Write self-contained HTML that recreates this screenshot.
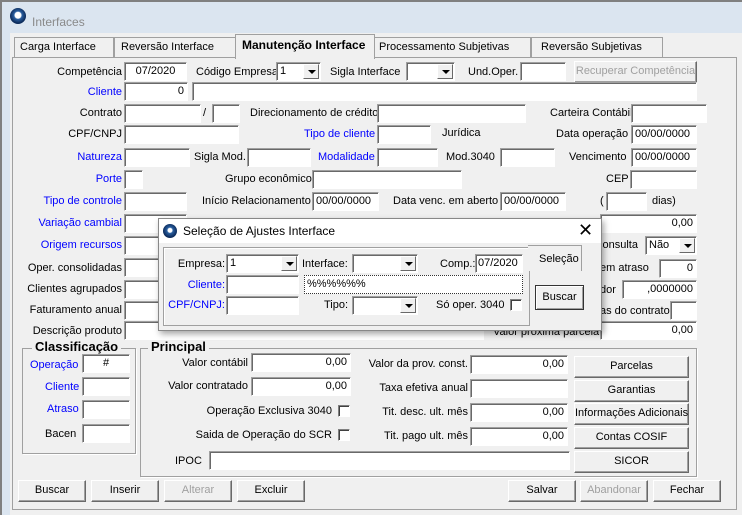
<!DOCTYPE html>
<html><head><meta charset="utf-8"><style>
*{box-sizing:border-box;margin:0;padding:0}
body{width:742px;height:515px;overflow:hidden;background:#dbe5f0;font-family:"Liberation Sans",sans-serif;font-size:11px;color:#000;position:relative}
div{position:absolute}
.l{white-space:nowrap;line-height:14px}
.r{text-align:right}
.b{color:#0000ff}
.i{background:#fff;border:1px solid;border-color:#a0a0a0 #fff #fff #a0a0a0;box-shadow:inset 1px 1px 0 #696969;height:19px;line-height:16px;padding:0 3px;white-space:nowrap;overflow:hidden}
.btn{background:#f0f0f0;border:1px solid;border-color:#fff #696969 #696969 #fff;box-shadow:inset -1px -1px 0 #a0a0a0;text-align:center;line-height:19px;height:22px;white-space:nowrap}
.dis{color:#a0a0a0}
.dd{position:absolute;right:1px;top:1px;width:16px;height:15px;background:#f0f0f0;border:1px solid;border-color:#fff #696969 #696969 #fff}
.dd:after{content:"";position:absolute;left:4px;top:5px;border:4px solid transparent;border-top:4px solid #000;border-bottom:0}
.cb{width:12px;height:12px;background:#fff;border:1px solid;border-color:#808080 #fff #fff #808080;box-shadow:inset 1px 1px 0 #404040}
.grp{border:1px solid #a0a0a0;box-shadow:1px 1px 0 #fff}
.gt{background:#f0f0f0;font-weight:bold;font-size:13px;padding:0 3px;line-height:14px}
</style></head><body>
<div style="left:0;top:0;width:742px;height:515px;border:2px solid #808080;border-right:0;border-bottom:0"></div>
<div style="left:10px;top:8px;width:16px;height:16px;border-radius:50%;background:radial-gradient(circle at 50% 45%,#fff 0 3px,#2a5fa0 4px,#0b2a5a 8px)"></div>
<div class="l" style="left:32px;top:15px;color:#8a8a8a;font-size:12px">Interfaces</div>
<div style="left:10px;top:33px;width:732px;height:482px;background:#f0f0f0"></div>
<div style="left:14px;top:37px;width:100px;height:21px;border:1px solid #a0a0a0;border-bottom:0;background:#f0f0f0"></div><div class="l" style="left:20px;top:40px">Carga Interface</div>
<div style="left:114px;top:37px;width:122px;height:21px;border:1px solid #a0a0a0;border-bottom:0;background:#f0f0f0"></div><div class="l" style="left:121px;top:40px">Reversão Interface</div>
<div style="left:374px;top:37px;width:157px;height:21px;border:1px solid #a0a0a0;border-bottom:0;background:#f0f0f0"></div><div class="l" style="left:379px;top:40px">Processamento Subjetivas</div>
<div style="left:531px;top:37px;width:132px;height:21px;border:1px solid #a0a0a0;border-bottom:0;background:#f0f0f0"></div><div class="l" style="left:541px;top:40px">Reversão Subjetivas</div>
<div style="left:12px;top:57px;width:725px;height:453px;border:1px solid #a0a0a0;background:#f0f0f0"></div>
<div style="left:235px;top:34px;width:140px;height:25px;background:#f0f0f0;border:1px solid #a0a0a0;border-bottom:0"></div>
<div class="l" style="left:242px;top:38px;font-weight:bold;font-size:12px">Manutenção Interface</div>

<div class="l r" style="right:620px;top:65px">Competência</div>
<div class="i" style="left:124px;top:62px;width:63px;text-align:center">07/2020</div>
<div class="l" style="left:196px;top:65px">Código Empresa</div>
<div class="i" style="left:276px;top:62px;width:45px">1<span class="dd"></span></div>
<div class="l" style="left:330px;top:65px">Sigla Interface</div>
<div class="i" style="left:406px;top:62px;width:49px"><span class="dd"></span></div>
<div class="l" style="left:468px;top:65px">Und.Oper.</div>
<div class="i" style="left:520px;top:62px;width:46px"></div>
<div class="btn dis" style="left:574px;top:61px;width:123px">Recuperar Competência</div>
<div class="l r b" style="right:620px;top:85px">Cliente</div>
<div class="i" style="left:124px;top:82px;width:64px;text-align:right">0</div>
<div class="i" style="left:192px;top:82px;width:505px"></div>
<div class="l r" style="right:620px;top:106px">Contrato</div>
<div class="i" style="left:124px;top:104px;width:77px"></div>
<div class="l" style="left:203px;top:106px">/</div>
<div class="i" style="left:212px;top:104px;width:28px"></div>
<div class="l" style="left:250px;top:106px">Direcionamento de crédito</div>
<div class="i" style="left:377px;top:104px;width:149px"></div>
<div class="l" style="left:550px;top:106px">Carteira Contábil</div>
<div class="i" style="left:631px;top:104px;width:76px"></div>
<div class="l r" style="right:620px;top:127px">CPF/CNPJ</div>
<div class="i" style="left:124px;top:125px;width:115px"></div>
<div class="l b" style="left:304px;top:127px">Tipo de cliente</div>
<div class="i" style="left:377px;top:125px;width:54px"></div>
<div class="l" style="left:442px;top:126px">Jurídica</div>
<div class="l" style="left:556px;top:127px">Data operação</div>
<div class="i" style="left:631px;top:125px;width:66px">00/00/0000</div>
<div class="l r b" style="right:620px;top:150px">Natureza</div>
<div class="i" style="left:124px;top:148px;width:66px"></div>
<div class="l" style="left:194px;top:150px">Sigla Mod.</div>
<div class="i" style="left:247px;top:148px;width:64px"></div>
<div class="l b" style="left:318px;top:150px">Modalidade</div>
<div class="i" style="left:377px;top:148px;width:61px"></div>
<div class="l" style="left:446px;top:150px">Mod.3040</div>
<div class="i" style="left:500px;top:148px;width:55px"></div>
<div class="l" style="left:569px;top:150px">Vencimento</div>
<div class="i" style="left:631px;top:148px;width:66px">00/00/0000</div>
<div class="l r b" style="right:620px;top:172px">Porte</div>
<div class="i" style="left:124px;top:170px;width:19px"></div>
<div class="l" style="left:225px;top:172px">Grupo econômico</div>
<div class="i" style="left:312px;top:170px;width:150px"></div>
<div class="l" style="left:606px;top:172px">CEP</div>
<div class="i" style="left:630px;top:170px;width:67px"></div>
<div class="l r b" style="right:620px;top:194px">Tipo de controle</div>
<div class="i" style="left:124px;top:192px;width:63px"></div>
<div class="l" style="left:202px;top:194px">Início Relacionamento</div>
<div class="i" style="left:312px;top:192px;width:67px">00/00/0000</div>
<div class="l" style="left:393px;top:194px">Data venc. em aberto</div>
<div class="i" style="left:500px;top:192px;width:66px">00/00/0000</div>
<div class="l" style="left:600px;top:194px">(</div>
<div class="i" style="left:606px;top:192px;width:41px"></div>
<div class="l" style="left:652px;top:194px">dias)</div>
<div class="l r b" style="right:620px;top:216px">Variação cambial</div>
<div class="i" style="left:124px;top:214px;width:63px"></div>
<div class="i" style="left:600px;top:214px;width:97px;text-align:right">0,00</div>
<div class="l r b" style="right:620px;top:238px">Origem recursos</div>
<div class="i" style="left:124px;top:236px;width:63px"></div>
<div class="l" style="left:597px;top:238px">consulta</div>
<div class="i" style="left:645px;top:236px;width:52px">Não<span class="dd"></span></div>
<div class="l r" style="right:620px;top:261px">Oper. consolidadas</div>
<div class="i" style="left:124px;top:258px;width:63px"></div>
<div class="l" style="left:600px;top:261px">em atraso</div>
<div class="i" style="left:659px;top:259px;width:38px;text-align:right">0</div>
<div class="l r" style="right:620px;top:282px">Clientes agrupados</div>
<div class="i" style="left:124px;top:280px;width:63px"></div>
<div class="l" style="left:600px;top:283px">dor</div>
<div class="i" style="left:622px;top:280px;width:75px;text-align:right">,0000000</div>
<div class="l r" style="right:620px;top:303px">Faturamento anual</div>
<div class="i" style="left:124px;top:301px;width:63px"></div>
<div class="l" style="left:600px;top:304px">as do contrato</div>
<div class="i" style="left:670px;top:301px;width:27px"></div>
<div class="l r" style="right:620px;top:324px">Descrição produto</div>
<div class="i" style="left:124px;top:321px;width:360px"></div>
<div class="l" style="left:493px;top:325px">Valor próxima parcela</div>
<div class="i" style="left:600px;top:321px;width:97px;text-align:right">0,00</div>

<div class="grp" style="left:22px;top:348px;width:114px;height:106px"></div>
<div class="gt" style="left:32px;top:340px">Classificação</div>
<div class="l b" style="left:30px;top:358px">Operação</div>
<div class="i" style="left:82px;top:354px;width:48px;text-align:center">#</div>
<div class="l b" style="left:45px;top:380px">Cliente</div>
<div class="i" style="left:82px;top:377px;width:48px"></div>
<div class="l b" style="left:47px;top:402px">Atraso</div>
<div class="i" style="left:82px;top:400px;width:48px"></div>
<div class="l" style="left:45px;top:427px">Bacen</div>
<div class="i" style="left:82px;top:424px;width:48px"></div>

<div class="grp" style="left:140px;top:348px;width:557px;height:129px"></div>
<div class="gt" style="left:148px;top:340px">Principal</div>
<div class="l r" style="right:494px;top:356px">Valor contábil</div>
<div class="i" style="left:251px;top:353px;width:100px;text-align:right">0,00</div>
<div class="l r" style="right:494px;top:379px">Valor contratado</div>
<div class="i" style="left:251px;top:377px;width:100px;text-align:right">0,00</div>
<div class="l r" style="right:410px;top:404px">Operação Exclusiva 3040</div>
<div class="cb" style="left:338px;top:405px"></div>
<div class="l r" style="right:410px;top:428px">Saida de Operação do SCR</div>
<div class="cb" style="left:338px;top:429px"></div>
<div class="l" style="left:175px;top:454px">IPOC</div>
<div class="i" style="left:209px;top:451px;width:361px"></div>
<div class="l r" style="right:274px;top:357px">Valor da prov. const.</div>
<div class="i" style="left:470px;top:355px;width:98px;text-align:right">0,00</div>
<div class="l r" style="right:274px;top:381px">Taxa efetiva anual</div>
<div class="i" style="left:470px;top:379px;width:98px"></div>
<div class="l r" style="right:274px;top:405px">Tit. desc. ult. mês</div>
<div class="i" style="left:470px;top:403px;width:98px;text-align:right">0,00</div>
<div class="l r" style="right:274px;top:429px">Tit. pago ult. mês</div>
<div class="i" style="left:470px;top:427px;width:98px;text-align:right">0,00</div>
<div class="btn" style="left:574px;top:356px;width:115px">Parcelas</div>
<div class="btn" style="left:574px;top:380px;width:115px">Garantias</div>
<div class="btn" style="left:574px;top:403px;width:115px">Informações Adicionais</div>
<div class="btn" style="left:574px;top:427px;width:115px">Contas COSIF</div>
<div class="btn" style="left:574px;top:451px;width:115px">SICOR</div>

<div class="btn" style="left:18px;top:480px;width:68px">Buscar</div>
<div class="btn" style="left:91px;top:480px;width:68px">Inserir</div>
<div class="btn dis" style="left:164px;top:480px;width:68px">Alterar</div>
<div class="btn" style="left:237px;top:480px;width:68px">Excluir</div>
<div class="btn" style="left:508px;top:480px;width:68px">Salvar</div>
<div class="btn dis" style="left:580px;top:480px;width:68px">Abandonar</div>
<div class="btn" style="left:653px;top:480px;width:68px">Fechar</div>

<div style="left:158px;top:218px;width:444px;height:113px;background:#f0f0f0;border:1px solid #888;box-shadow:2px 3px 6px rgba(0,0,0,.35)"></div>
<div style="left:159px;top:219px;width:442px;height:24px;background:#fff"></div>
<div style="left:163px;top:224px;width:14px;height:14px;border-radius:50%;background:radial-gradient(circle at 50% 45%,#fff 0 2px,#2a5fa0 3px,#0b2a5a 7px)"></div>
<div class="l" style="left:183px;top:224px;font-size:12px">Seleção de Ajustes Interface</div>
<div class="l" style="left:578px;top:221px;font-size:18px;line-height:18px">✕</div>
<div style="left:163px;top:247px;width:367px;height:79px;border:1px solid #a0a0a0;box-shadow:inset 1px 1px 0 #fff"></div>
<div style="left:528px;top:245px;width:54px;height:26px;background:#f0f0f0;border:1px solid #a0a0a0;border-bottom:0;border-left:0"></div>
<div class="l" style="left:539px;top:252px">Seleção</div>
<div class="l r" style="right:517px;top:257px">Empresa:</div>
<div class="i" style="left:226px;top:254px;width:73px">1<span class="dd"></span></div>
<div class="l" style="left:302px;top:257px">Interface:</div>
<div class="i" style="left:352px;top:254px;width:66px"><span class="dd"></span></div>
<div class="l" style="left:440px;top:257px">Comp.:</div>
<div class="i" style="left:475px;top:254px;width:48px;padding:0 2px">07/2020</div>
<div class="l r b" style="right:517px;top:278px">Cliente:</div>
<div class="i" style="left:226px;top:275px;width:73px"></div>
<div style="left:304px;top:275px;width:219px;height:19px;border:1px dotted #333;background:#fff;line-height:17px;padding:0 2px;font-size:11px">%%%%%%</div>
<div class="l r b" style="right:517px;top:298px">CPF/CNPJ:</div>
<div class="i" style="left:226px;top:296px;width:73px"></div>
<div class="l" style="left:324px;top:298px">Tipo:</div>
<div class="i" style="left:352px;top:296px;width:66px"><span class="dd"></span></div>
<div class="l" style="left:436px;top:298px">Só oper. 3040</div>
<div class="cb" style="left:510px;top:299px"></div>
<div class="btn" style="left:535px;top:285px;width:49px;height:25px;border:1px solid #333;box-shadow:inset 1px 1px 0 #fff,inset -1px -1px 0 #a0a0a0;line-height:23px">Buscar</div>
</body></html>
